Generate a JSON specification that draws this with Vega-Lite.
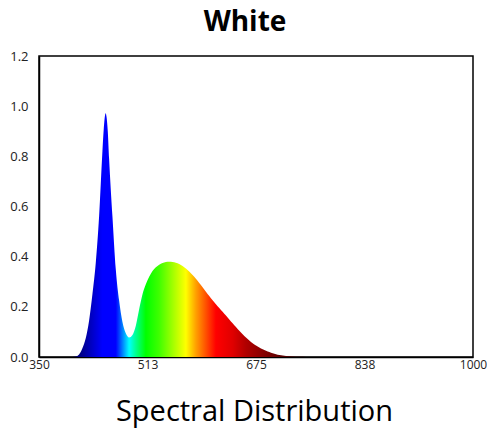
{
  "$schema": "https://vega.github.io/schema/vega-lite/v6.json",
  "width": 434,
  "height": 301,
  "autosize": {"type": "none"},
  "padding": {"left": 39, "top": 56, "right": 14, "bottom": 74},
  "background": "white",
  "config": {
    "view": {"stroke": "#000", "strokeWidth": 1.5},
    "font": "Open Sans"
  },
  "title": {
    "text": "White",
    "font": "Open Sans",
    "fontSize": 28,
    "fontWeight": "bold",
    "color": "#000",
    "anchor": "middle",
    "frame": "group",
    "dx": -11,
    "offset": 13
  },
  "data": {
    "values": [
      {"nm": 400, "v": 0},
      {"nm": 405, "v": 0.002},
      {"nm": 410, "v": 0.01},
      {"nm": 415, "v": 0.035},
      {"nm": 420, "v": 0.075},
      {"nm": 425, "v": 0.145},
      {"nm": 430, "v": 0.25},
      {"nm": 435, "v": 0.375},
      {"nm": 440, "v": 0.56},
      {"nm": 445, "v": 0.82},
      {"nm": 447, "v": 0.91},
      {"nm": 449, "v": 0.965},
      {"nm": 450, "v": 0.972},
      {"nm": 451, "v": 0.96},
      {"nm": 453, "v": 0.9},
      {"nm": 455, "v": 0.79},
      {"nm": 460, "v": 0.56},
      {"nm": 465, "v": 0.35},
      {"nm": 470, "v": 0.225},
      {"nm": 475, "v": 0.14},
      {"nm": 480, "v": 0.095},
      {"nm": 485, "v": 0.078},
      {"nm": 490, "v": 0.088},
      {"nm": 495, "v": 0.125},
      {"nm": 500, "v": 0.19},
      {"nm": 505, "v": 0.25},
      {"nm": 510, "v": 0.29},
      {"nm": 515, "v": 0.32},
      {"nm": 520, "v": 0.343},
      {"nm": 525, "v": 0.358},
      {"nm": 530, "v": 0.368},
      {"nm": 535, "v": 0.375},
      {"nm": 540, "v": 0.379},
      {"nm": 545, "v": 0.38},
      {"nm": 550, "v": 0.379},
      {"nm": 555, "v": 0.376},
      {"nm": 560, "v": 0.371},
      {"nm": 565, "v": 0.363},
      {"nm": 570, "v": 0.353},
      {"nm": 575, "v": 0.341},
      {"nm": 580, "v": 0.327},
      {"nm": 585, "v": 0.312},
      {"nm": 590, "v": 0.295},
      {"nm": 595, "v": 0.278},
      {"nm": 600, "v": 0.26},
      {"nm": 605, "v": 0.243},
      {"nm": 610, "v": 0.226},
      {"nm": 615, "v": 0.21},
      {"nm": 620, "v": 0.195},
      {"nm": 625, "v": 0.18},
      {"nm": 630, "v": 0.165},
      {"nm": 635, "v": 0.15},
      {"nm": 640, "v": 0.135},
      {"nm": 645, "v": 0.12},
      {"nm": 650, "v": 0.105},
      {"nm": 655, "v": 0.091},
      {"nm": 660, "v": 0.078},
      {"nm": 665, "v": 0.066},
      {"nm": 670, "v": 0.055},
      {"nm": 675, "v": 0.046},
      {"nm": 680, "v": 0.038},
      {"nm": 685, "v": 0.031},
      {"nm": 690, "v": 0.025},
      {"nm": 695, "v": 0.02},
      {"nm": 700, "v": 0.015},
      {"nm": 705, "v": 0.011},
      {"nm": 710, "v": 0.008},
      {"nm": 715, "v": 0.0055},
      {"nm": 720, "v": 0.004},
      {"nm": 730, "v": 0.002},
      {"nm": 740, "v": 0.001},
      {"nm": 750, "v": 0.0003},
      {"nm": 760, "v": 0}
    ]
  },
  "mark": {
    "type": "area",
    "interpolate": "monotone",
    "color": {
      "gradient": "linear",
      "x1": 0, "x2": 1, "y1": 0, "y2": 0,
      "stops": [
        {"offset": 0, "color": "#000060"},
        {"offset": 0.0417, "color": "#000090"},
        {"offset": 0.0833, "color": "#0000c8"},
        {"offset": 0.125, "color": "#0000ff"},
        {"offset": 0.1806, "color": "#0000ff"},
        {"offset": 0.2083, "color": "#0080ff"},
        {"offset": 0.2361, "color": "#00ffff"},
        {"offset": 0.2639, "color": "#00ff90"},
        {"offset": 0.3056, "color": "#00ff00"},
        {"offset": 0.3611, "color": "#40ff00"},
        {"offset": 0.4167, "color": "#a0ff00"},
        {"offset": 0.4722, "color": "#ffff00"},
        {"offset": 0.5139, "color": "#ffa000"},
        {"offset": 0.5556, "color": "#ff5000"},
        {"offset": 0.5972, "color": "#ff0000"},
        {"offset": 0.6667, "color": "#e00000"},
        {"offset": 0.7222, "color": "#b00000"},
        {"offset": 0.8056, "color": "#800000"},
        {"offset": 0.8889, "color": "#500000"},
        {"offset": 1, "color": "#300000"}
      ]
    }
  },
  "encoding": {
    "x": {
      "field": "nm",
      "type": "quantitative",
      "scale": {"domain": [350, 1000], "nice": false, "zero": false},
      "axis": {
        "values": [350, 512.5, 675, 837.5, 1000],
        "format": ".0f",
        "grid": false,
        "ticks": false,
        "tickSize": 0,
        "domain": true,
        "domainColor": "#000",
        "domainWidth": 1.5,
        "labelFont": "Open Sans",
        "labelFontSize": 12,
        "labelFlush": false,
        "labelColor": "#222",
        "labelPadding": 2,
        "title": "Spectral Distribution",
        "titleFont": "Open Sans",
        "titleFontSize": 29,
        "titleFontWeight": "normal",
        "titleColor": "#000",
        "titleBaseline": "alphabetic",
        "titleX": 215,
        "titleY": 63
      }
    },
    "y": {
      "field": "v",
      "type": "quantitative",
      "scale": {"domain": [0, 1.2], "nice": false},
      "axis": {
        "values": [0, 0.2, 0.4, 0.6, 0.8, 1.0, 1.2],
        "format": ".1f",
        "grid": false,
        "ticks": false,
        "tickSize": 0,
        "domain": true,
        "domainColor": "#000",
        "domainWidth": 1.5,
        "labelFont": "Open Sans",
        "labelFontSize": 13,
        "labelColor": "#222",
        "labelPadding": 11,
        "title": null
      }
    }
  }
}
